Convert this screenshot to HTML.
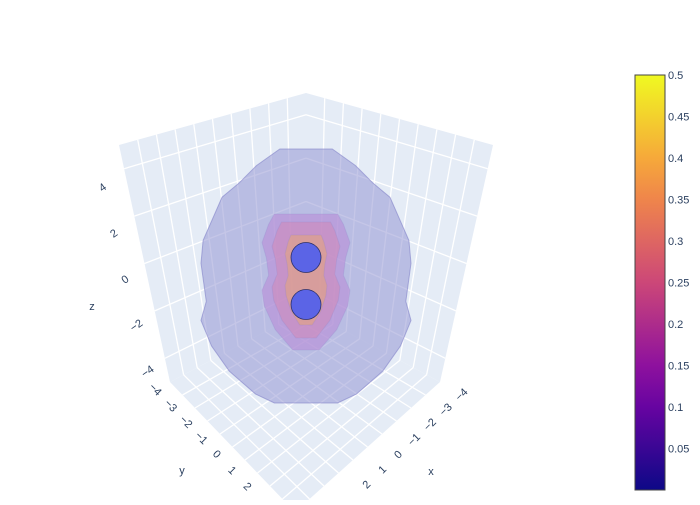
<!DOCTYPE html>
<html><head><meta charset="utf-8"><style>
body{margin:0;background:#fff;}
svg text{font-family:"Liberation Sans",sans-serif;fill:#2a3f5f;font-size:11px;}
</style></head><body>
<svg id="chart" width="700" height="500" viewBox="0 0 700 500">
<g id="scene"></g>
<g id="cbar"></g>
</svg>
<script>
const xTicks=[-4,-3,-2,-1,0,1,2];
const yTicks=[-4,-3,-2,-1,0,1,2];
const zTicks=[-4,-2,0,2,4];
const gridVals=[-4,-3,-2,-1,0,1,2,3,4];
const zGridVals=[-4,-2,0,2,4];
const isoLevels=[0.05,0.15,0.25,0.35];
const isoWidths=[105,44,34,21];
const isoHeights=[127,68,58,45];
const atomZ=[1.0,-1.0];
const cbTicks=[0.05,0.1,0.15,0.2,0.25,0.3,0.35,0.4,0.45,0.5];

const NS='http://www.w3.org/2000/svg';
const R=5;
const B=[306,310],L=[170,382],Rc=[440,382],F=[295,512];
const TB=[306,93],TL=[119,145],TR=[493,145];
function lerp(a,b,t){return [a[0]+(b[0]-a[0])*t,a[1]+(b[1]-a[1])*t];}
function floorPt(x,y){const u=(x+R)/(2*R),v=(y+R)/(2*R);
 return [B[0]*(1-u)*(1-v)+L[0]*u*(1-v)+Rc[0]*(1-u)*v+F[0]*u*v,
         B[1]*(1-u)*(1-v)+L[1]*u*(1-v)+Rc[1]*(1-u)*v+F[1]*u*v];}
function leftWall(x,z){const u=(x+R)/(2*R),t=(z+R)/(2*R);return lerp(lerp(B,L,u),lerp(TB,TL,u),t);}
function rightWall(y,z){const v=(y+R)/(2*R),t=(z+R)/(2*R);return lerp(lerp(B,Rc,v),lerp(TB,TR,v),t);}
function el(tag,attrs,parent){const e=document.createElementNS(NS,tag);for(const k in attrs)e.setAttribute(k,attrs[k]);parent.appendChild(e);return e;}
const scene=document.getElementById('scene');
const pts=a=>a.map(p=>p.map(v=>v.toFixed(1)).join(',')).join(' ');
let p;
p=el('polygon',{points:pts([B,L,TL,TB]),fill:'#e5ecf6'},scene);


p=el('polygon',{points:pts([B,Rc,TR,TB]),fill:'#e5ecf6'},scene);


p=el('polygon',{points:pts([B,L,F,Rc]),fill:'#e5ecf6'},scene);


function line(a,b,name){const l=el('line',{x1:a[0],y1:a[1],x2:b[0],y2:b[1],stroke:'#fff','stroke-width':1.3},scene);
 
 }
gridVals.forEach(g=>{
 line(floorPt(g,-R),floorPt(g,R),'floor-grid-x');
 line(floorPt(-R,g),floorPt(R,g),'floor-grid-y');
 line(leftWall(g,-R),leftWall(g,R),'left-wall-grid');
 line(rightWall(g,-R),rightWall(g,R),'right-wall-grid');
});
zGridVals.forEach(g=>{
 line(leftWall(-R,g),leftWall(R,g),'left-wall-zgrid');
 line(rightWall(-R,g),rightWall(R,g),'right-wall-zgrid');
});
const outerShape=[[0.25,-1],[0.47,-0.87],[0.64,-0.73],[0.8,-0.62],[0.98,-0.28],[1,-0.1],[0.95,0.2],[1,0.35],[0.9,0.55],[0.73,0.75],[0.48,0.93],[0.3,1]];
const innerShape=[[0.72,-1],[0.85,-0.85],[1,-0.58],[0.9,-0.35],[0.85,-0.1],[1,0.12],[0.95,0.35],[0.7,0.7],[0.3,1]];
const isoFill=['rgb(150,152,212)','rgb(185,140,215)','rgb(215,130,175)','rgb(230,165,120)'];
const isoOp=[0.55,0.6,0.45,0.55];
const isoCy=[276,282,280,280];
isoLevels.forEach((lv,i)=>{
 const sh=i==0?outerShape:innerShape,w=isoWidths[i],h=isoHeights[i],pp=[],cx=306,cy=isoCy[i];
 sh.forEach(s=>pp.push([cx+w*s[0],cy+h*s[1]]));
 sh.slice().reverse().forEach(s=>pp.push([cx-w*s[0],cy+h*s[1]]));
 const e=el('polygon',{points:pts(pp),fill:isoFill[i],'fill-opacity':isoOp[i],stroke:'rgb(130,130,200)','stroke-opacity':i==0?0.6:0.2,'stroke-linejoin':'round'},scene);
 
 
});
atomZ.forEach((z,i)=>{
 const c=el('circle',{cx:306,cy:281-z*23.5,r:15,fill:'#5b64e6',stroke:'#2a2f6a','stroke-width':0.8},scene);
 
 
});
function txt(s,x,y,rot,name,size){const t=el('text',{x:x,y:y,'text-anchor':'middle','dominant-baseline':'middle',transform:'rotate('+rot+' '+x+' '+y+')'},scene);
 if(size)t.setAttribute('font-size',size);
 t.textContent=s;
 
 }
zTicks.forEach(v=>{const t=(4-v)/8;txt(String(v).replace('-','−'),103+45*t,188+184*t,-35,'z-tick-label');});
yTicks.forEach(v=>{const t=(v+4)/6;txt(String(v).replace('-','−'),155+92*t,390+97*t,45,'y-tick-label');});
xTicks.forEach(v=>{const t=(v+4)/6;txt(String(v).replace('-','−'),462-95*t,395+90*t,-45,'x-tick-label');});
txt('z',92,307,0,'z-axis-title',13);
txt('y',182,471,0,'y-axis-title',13);
txt('x',431,472,0,'x-axis-title',13);
const cb=document.getElementById('cbar');
function plasma(t){const s=[[13,8,135],[126,3,168],[204,71,120],[248,149,64],[240,249,33]];
 const f=Math.min(Math.max(t,0),1)*(s.length-1),i=Math.min(Math.floor(f),s.length-2),r=f-i;
 return 'rgb('+s[i].map((c,k)=>Math.round(c+(s[i+1][k]-c)*r)).join(',')+')';}
const defs=el('defs',{},cb);
const g=el('linearGradient',{id:'pl',x1:0,y1:1,x2:0,y2:0},defs);
for(let k=0;k<=10;k++)el('stop',{offset:k/10,'stop-color':plasma(k/10)},g);
const y0=490,y1=75,vmax=0.5,cmin=0.0;
const sy=v=>y0-(v-cmin)/(vmax-cmin)*(y0-y1);
const r=el('rect',{x:635,y:75,width:30,height:415,fill:'url(#pl)',stroke:'#444','stroke-width':1},cb);


cbTicks.forEach(v=>{const t=el('text',{x:668,y:sy(v)+4,'font-size':12},cb);t.textContent=String(v);
 
 });
</script>
</body></html>
